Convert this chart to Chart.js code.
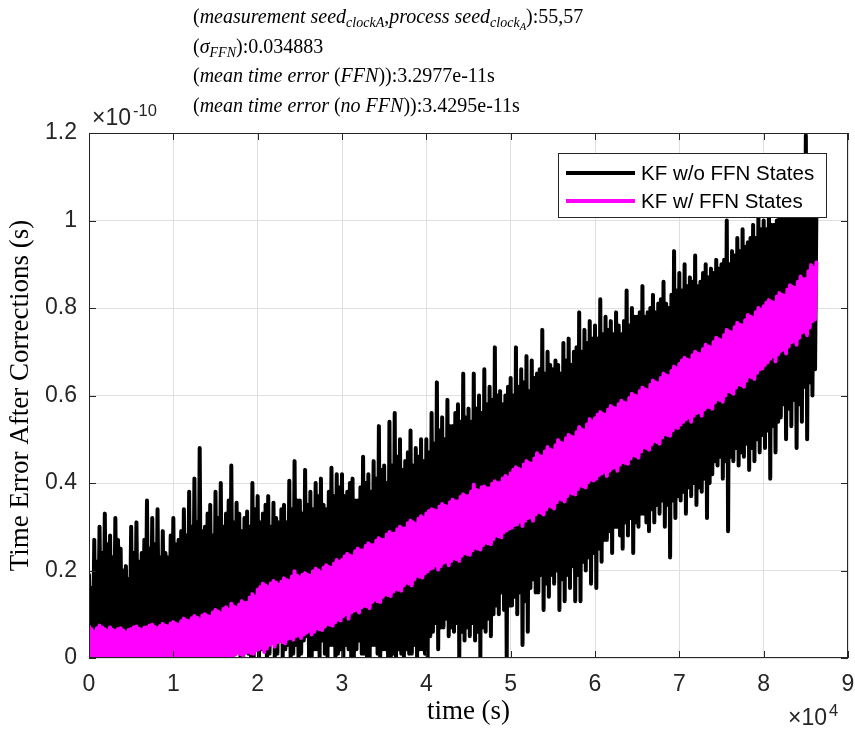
<!DOCTYPE html>
<html>
<head>
<meta charset="utf-8">
<script src="https://cdn.jsdelivr.net/npm/chart.js@4/dist/chart.umd.min.js"></script>
<style>
  body { margin: 0; background: #fff; }
  #wrap { position: relative; width: 855px; height: 736px; }
  #plot { position: absolute; left: 0; top: 0; }
  #title {
    position: absolute; left: 193px; top: 2px;
    font-family: "Liberation Serif", serif; font-size: 20px; line-height: 29.5px;
    color: #000; white-space: nowrap;
  }
  #title sub { font-size: 70%; vertical-align: -0.3em; line-height: 0; }
  #title sub sub { font-size: 75%; vertical-align: -0.25em; }
  .expo {
    position: absolute; font-family: "Liberation Sans", sans-serif;
    font-size: 23px; color: #262626; white-space: nowrap;
  }
  .expo sup { font-size: 72%; vertical-align: 0.55em; line-height: 0; margin-left: 2px; }
</style>
</head>
<body>
<div id="wrap">
  <canvas id="plot" width="855" height="736"></canvas>
  <div id="title">
    <div>(<i>measurement seed</i><sub><i>clockA</i></sub>,<i>process seed</i><sub><i>clock<sub>A</sub></i></sub>):55,57</div>
    <div>(<i>σ</i><sub><i>FFN</i></sub>):0.034883</div>
    <div>(<i>mean time error</i> (<i>FFN</i>)):3.2977e-11s</div>
    <div>(<i>mean time error</i> (<i>no FFN</i>)):3.4295e-11s</div>
  </div>
  <div class="expo" style="left:92px; top:104px;">×10<sup>-10</sup></div>
  <div class="expo" style="left:788px; top:704px;">×10<sup>4</sup></div>
</div>
<script>
// seconds between stored samples
const SAMPLE_DT = 156.25;

const seriesNames = ['KF w/o FFN States', 'KF w/ FFN States'];
const xTickLabels = ['0', '1', '2', '3', '4', '5', '6', '7', '8', '9'];
const yTickLabels = ['0', '0.2', '0.4', '0.6', '0.8', '1', '1.2'];

// time error after corrections, in units of 1e-10 s (one row per 10 000 s)
const errorNoFfn = [
  0.19,0.02, 0.16,0.01, 0.27,0.00, 0.22,0.04, 0.30,0.03, 0.24,0.00, 0.33,0.01, 0.26,0.02,
  0.28,0.00, 0.23,0.03, 0.32,0.04, 0.27,0.01, 0.25,0.01, 0.20,0.00, 0.21,0.02, 0.18,0.04,
  0.30,0.00, 0.24,0.01, 0.31,0.03, 0.22,0.00, 0.24,0.01, 0.27,0.02, 0.36,0.00, 0.25,0.03,
  0.32,0.02, 0.26,0.00, 0.34,0.04, 0.23,0.01, 0.29,0.01, 0.24,0.03, 0.23,0.00, 0.28,0.02,

  0.32,0.01, 0.26,0.03, 0.27,0.03, 0.29,0.00, 0.34,0.00, 0.28,0.02, 0.38,0.02, 0.30,0.04,
  0.41,0.04, 0.31,0.00, 0.48,0.01, 0.29,0.02, 0.30,0.00, 0.33,0.01, 0.35,0.03, 0.28,0.00,
  0.38,0.02, 0.32,0.03, 0.40,0.00, 0.30,0.01, 0.33,0.01, 0.36,0.00, 0.44,0.00, 0.31,0.02,
  0.355,0.02, 0.33,0.00, 0.29,0.00, 0.32,0.03, 0.335,0.01, 0.30,0.00, 0.40,0.00, 0.34,0.02,

  0.37,0.00, 0.31,0.02, 0.33,0.03, 0.35,0.00, 0.37,0.01, 0.30,0.04, 0.355,0.00, 0.32,0.01,
  0.31,0.04, 0.34,0.00, 0.35,0.02, 0.31,0.03, 0.405,0.00, 0.34,0.01, 0.45,0.03, 0.36,0.00,
  0.36,0.01, 0.33,0.04, 0.43,0.05, 0.35,0.00, 0.38,0.00, 0.34,0.02, 0.40,0.02, 0.37,0.00,
  0.41,0.04, 0.35,0.01, 0.34,0.00, 0.38,0.03, 0.435,0.03, 0.37,0.00, 0.42,0.01, 0.39,0.02,

  0.42,0.00, 0.37,0.03, 0.38,0.02, 0.40,0.00, 0.41,0.00, 0.36,0.02, 0.36,0.04, 0.39,0.01,
  0.46,0.01, 0.40,0.00, 0.42,0.00, 0.38,0.03, 0.45,0.03, 0.41,0.01, 0.53,0.00, 0.43,0.02,
  0.44,0.02, 0.40,0.00, 0.54,0.00, 0.44,0.01, 0.56,0.00, 0.46,0.02, 0.50,0.01, 0.43,0.00,
  0.45,0.02, 0.47,0.01, 0.52,0.01, 0.44,0.03, 0.48,0.00, 0.46,0.02, 0.50,0.02, 0.45,0.01,

  0.50,0.00, 0.47,0.05, 0.56,0.06, 0.49,0.08, 0.63,0.02, 0.52,0.07, 0.55,0.07, 0.50,0.09,
  0.59,0.05, 0.53,0.07, 0.53,0.06, 0.56,0.08, 0.58,0.00, 0.54,0.06, 0.65,0.04, 0.55,0.07,
  0.57,0.05, 0.54,0.08, 0.65,0.04, 0.57,0.06, 0.60,0.00, 0.56,0.07, 0.66,0.06, 0.58,0.09,
  0.62,0.05, 0.59,0.10, 0.71,0.12, 0.60,0.10, 0.61,0.15, 0.58,0.11, 0.60,0.00, 0.62,0.12,

  0.64,0.12, 0.60,0.14, 0.71,0.10, 0.62,0.15, 0.66,0.03, 0.63,0.13, 0.69,0.06, 0.61,0.16,
  0.68,0.18, 0.64,0.15, 0.65,0.15, 0.66,0.19, 0.75,0.11, 0.65,0.17, 0.70,0.14, 0.67,0.19,
  0.66,0.17, 0.68,0.20, 0.67,0.11, 0.65,0.18, 0.72,0.13, 0.68,0.19, 0.73,0.16, 0.67,0.21,
  0.70,0.13, 0.71,0.19, 0.79,0.13, 0.70,0.22, 0.75,0.20, 0.72,0.23, 0.77,0.17, 0.73,0.24,

  0.76,0.16, 0.73,0.25, 0.82,0.22, 0.74,0.27, 0.78,0.27, 0.75,0.29, 0.77,0.24, 0.74,0.30,
  0.79,0.30, 0.76,0.28, 0.74,0.25, 0.77,0.31, 0.84,0.28, 0.76,0.32, 0.80,0.24, 0.78,0.31,
  0.78,0.30, 0.79,0.33, 0.85,0.33, 0.78,0.31, 0.79,0.29, 0.80,0.34, 0.83,0.31, 0.79,0.35,
  0.81,0.33, 0.82,0.36, 0.86,0.30, 0.81,0.35, 0.80,0.23, 0.83,0.36, 0.93,0.32, 0.84,0.37,

  0.88,0.36, 0.84,0.38, 0.90,0.33, 0.85,0.39, 0.87,0.37, 0.86,0.40, 0.92,0.35, 0.85,0.39,
  0.86,0.38, 0.88,0.41, 0.90,0.32, 0.87,0.40, 0.89,0.42, 0.88,0.45, 0.91,0.44, 0.89,0.46,
  0.90,0.41, 0.91,0.45, 1.00,0.29, 0.90,0.46, 0.93,0.45, 0.92,0.48, 0.96,0.44, 0.93,0.47,
  0.98,0.46, 0.94,0.49, 0.95,0.43, 0.96,0.48, 0.99,0.45, 0.96,0.50, 1.01,0.47, 0.98,0.51,

  1.00,0.48, 0.98,0.52, 1.03,0.41, 0.99,0.53, 0.99,0.47, 1.00,0.54, 1.04,0.55, 1.01,0.58,
  1.02,0.50, 1.03,0.57, 1.06,0.53, 1.02,0.59, 1.01,0.48, 1.04,0.58, 1.05,0.54, 1.03,0.62,
  1.195,0.50, 1.04,0.63, 1.04,0.60, 1.02,0.66, 1.02
];

const errorFfn = [
  0.072,0.000, 0.066,0.002, 0.060,0.004, 0.068,0.000, 0.074,0.001, 0.070,0.003, 0.066,0.000, 0.062,0.001,
  0.070,0.003, 0.064,0.000, 0.062,0.000, 0.066,0.002, 0.068,0.002, 0.063,0.000, 0.058,0.001, 0.064,0.002,
  0.066,0.000, 0.070,0.001, 0.072,0.003, 0.067,0.000, 0.064,0.000, 0.069,0.002, 0.070,0.002, 0.074,0.000,
  0.076,0.001, 0.071,0.003, 0.068,0.000, 0.073,0.001, 0.078,0.002, 0.074,0.000, 0.072,0.000, 0.079,0.002,

  0.082,0.000, 0.078,0.002, 0.076,0.002, 0.084,0.000, 0.090,0.000, 0.086,0.003, 0.084,0.001, 0.091,0.000,
  0.096,0.000, 0.092,0.002, 0.088,0.003, 0.097,0.000, 0.100,0.000, 0.096,0.001, 0.094,0.001, 0.104,0.000,
  0.110,0.000, 0.106,0.003, 0.102,0.002, 0.112,0.000, 0.116,0.000, 0.110,0.002, 0.124,0.004, 0.118,0.008,
  0.114,0.012, 0.122,0.009, 0.130,0.006, 0.126,0.012, 0.126,0.014, 0.138,0.011, 0.146,0.010, 0.140,0.018,

  0.156,0.020, 0.162,0.024, 0.170,0.014, 0.166,0.022, 0.162,0.030, 0.170,0.034, 0.176,0.026, 0.172,0.036,
  0.168,0.040, 0.174,0.036, 0.182,0.034, 0.178,0.044, 0.176,0.046, 0.186,0.042, 0.198,0.050, 0.188,0.052,
  0.184,0.046, 0.190,0.054, 0.194,0.058, 0.190,0.062, 0.188,0.054, 0.198,0.060, 0.204,0.068, 0.200,0.066,
  0.196,0.064, 0.206,0.072, 0.212,0.078, 0.208,0.076, 0.206,0.074, 0.216,0.082, 0.224,0.088, 0.220,0.086,

  0.224,0.096, 0.232,0.100, 0.238,0.090, 0.234,0.104, 0.232,0.108, 0.244,0.110, 0.250,0.104, 0.246,0.116,
  0.246,0.120, 0.256,0.118, 0.262,0.114, 0.258,0.128, 0.258,0.134, 0.268,0.130, 0.274,0.128, 0.270,0.140,
  0.270,0.146, 0.282,0.144, 0.288,0.142, 0.284,0.152, 0.284,0.158, 0.294,0.156, 0.300,0.154, 0.296,0.166,
  0.296,0.172, 0.308,0.170, 0.314,0.166, 0.310,0.180, 0.306,0.188, 0.318,0.186, 0.324,0.184, 0.320,0.194,

  0.330,0.198, 0.336,0.204, 0.340,0.206, 0.338,0.212, 0.336,0.202, 0.346,0.210, 0.352,0.218, 0.348,0.220,
  0.346,0.212, 0.356,0.222, 0.362,0.228, 0.358,0.226, 0.358,0.222, 0.368,0.234, 0.374,0.240, 0.370,0.238,
  0.370,0.236, 0.380,0.246, 0.396,0.252, 0.384,0.250, 0.382,0.248, 0.390,0.258, 0.392,0.264, 0.388,0.262,
  0.388,0.260, 0.398,0.272, 0.404,0.280, 0.400,0.278, 0.400,0.276, 0.410,0.288, 0.416,0.292, 0.412,0.296,

  0.422,0.298, 0.430,0.304, 0.436,0.306, 0.432,0.312, 0.430,0.302, 0.442,0.314, 0.450,0.320, 0.446,0.322,
  0.444,0.314, 0.456,0.328, 0.468,0.334, 0.462,0.332, 0.460,0.328, 0.472,0.340, 0.482,0.348, 0.476,0.346,
  0.474,0.342, 0.486,0.356, 0.498,0.364, 0.492,0.362, 0.490,0.358, 0.502,0.370, 0.510,0.378, 0.506,0.376,
  0.504,0.374, 0.516,0.386, 0.528,0.394, 0.522,0.392, 0.520,0.390, 0.534,0.402, 0.546,0.408, 0.540,0.406,

  0.548,0.410, 0.556,0.418, 0.562,0.422, 0.558,0.426, 0.556,0.416, 0.568,0.428, 0.576,0.434, 0.572,0.436,
  0.570,0.428, 0.580,0.442, 0.588,0.448, 0.584,0.446, 0.582,0.444, 0.594,0.456, 0.604,0.464, 0.600,0.462,
  0.598,0.458, 0.610,0.472, 0.618,0.482, 0.614,0.480, 0.612,0.476, 0.624,0.488, 0.634,0.496, 0.630,0.494,
  0.628,0.490, 0.640,0.504, 0.650,0.512, 0.646,0.510, 0.644,0.508, 0.656,0.520, 0.666,0.528, 0.662,0.526,

  0.672,0.534, 0.680,0.540, 0.686,0.546, 0.682,0.550, 0.680,0.540, 0.692,0.554, 0.700,0.560, 0.696,0.562,
  0.694,0.554, 0.706,0.568, 0.716,0.574, 0.712,0.574, 0.710,0.570, 0.722,0.584, 0.732,0.592, 0.728,0.590,
  0.726,0.586, 0.738,0.600, 0.750,0.610, 0.746,0.608, 0.744,0.604, 0.756,0.618, 0.766,0.626, 0.762,0.624,
  0.760,0.620, 0.772,0.634, 0.784,0.644, 0.780,0.642, 0.778,0.638, 0.790,0.652, 0.800,0.660, 0.796,0.662,

  0.804,0.670, 0.812,0.676, 0.818,0.684, 0.814,0.690, 0.812,0.678, 0.826,0.694, 0.834,0.702, 0.830,0.706,
  0.828,0.696, 0.842,0.712, 0.852,0.722, 0.848,0.724, 0.846,0.716, 0.860,0.732, 0.872,0.744, 0.866,0.746,
  0.866,0.738, 0.884,0.756, 0.898,0.770, 0.892,0.774, 0.904
];

function toPoints(values) {
  return values.map((v, i) => ({ x: i * SAMPLE_DT, y: v }));
}

const AXIS_COLOR = '#262626';

// MATLAB-like box with inward tick marks on all four sides
const axesBox = {
  id: 'axesBox',
  afterDatasetsDraw(chart) {
    const { ctx, chartArea: a, scales } = chart;
    const len = 7;
    ctx.save();
    ctx.strokeStyle = AXIS_COLOR;
    ctx.lineWidth = 1;
    ctx.beginPath();
    scales.x.ticks.forEach(t => {
      const px = Math.round(scales.x.getPixelForValue(t.value)) + 0.5;
      ctx.moveTo(px, a.bottom); ctx.lineTo(px, a.bottom - len);
      ctx.moveTo(px, a.top); ctx.lineTo(px, a.top + len);
    });
    scales.y.ticks.forEach(t => {
      const py = Math.round(scales.y.getPixelForValue(t.value)) + 0.5;
      ctx.moveTo(a.left, py); ctx.lineTo(a.left + len, py);
      ctx.moveTo(a.right, py); ctx.lineTo(a.right - len, py);
    });
    ctx.stroke();
    ctx.strokeRect(a.left + 0.5, a.top + 0.5, a.right - a.left - 1, a.bottom - a.top - 1);
    ctx.restore();
  }
};

const legendBox = {
  id: 'legendBox',
  afterDraw(chart) {
    const ctx = chart.ctx;
    const x = 558, y = 153, w = 268, h = 64;
    ctx.save();
    ctx.fillStyle = '#fff';
    ctx.fillRect(x, y, w, h);
    ctx.strokeStyle = AXIS_COLOR;
    ctx.lineWidth = 1;
    ctx.strokeRect(x + 0.5, y + 0.5, w, h);
    ctx.font = '20.5px "Liberation Sans", sans-serif';
    ctx.textBaseline = 'middle';
    chart.data.datasets.forEach((ds, i) => {
      const ly = y + 20 + i * 28;
      ctx.strokeStyle = ds.borderColor;
      ctx.lineWidth = 4;
      ctx.beginPath();
      ctx.moveTo(566, ly);
      ctx.lineTo(635, ly);
      ctx.stroke();
      ctx.fillStyle = '#000';
      ctx.fillText(ds.label, 641, ly + 1);
    });
    ctx.restore();
  }
};

Chart.defaults.font.family = '"Liberation Sans", Arial, sans-serif';
Chart.defaults.color = AXIS_COLOR;

new Chart(document.getElementById('plot'), {
  type: 'line',
  data: {
    datasets: [
      {
        label: seriesNames[0],
        data: toPoints(errorNoFfn),
        borderColor: '#000000',
        borderWidth: 4,
        order: 1
      },
      {
        label: seriesNames[1],
        data: toPoints(errorFfn),
        borderColor: '#ff00ff',
        borderWidth: 4,
        order: 0
      }
    ]
  },
  options: {
    responsive: false,
    animation: false,
    layout: { padding: { top: 133, right: 7, left: 0, bottom: 0 } },
    elements: {
      point: { radius: 0 },
      line: { tension: 0, borderJoinStyle: 'round', borderCapStyle: 'round' }
    },
    plugins: { legend: { display: false }, tooltip: { enabled: false } },
    scales: {
      x: {
        type: 'linear',
        min: 0,
        max: 90000,
        afterFit: s => {
          s.height = 78;
          s.paddingLeft = 0;
          s.paddingRight = 7;
        },
        ticks: {
          stepSize: 10000,
          padding: 13,
          font: { size: 23 },
          callback: (v, i) => xTickLabels[i]
        },
        grid: { color: '#dfdfdf', drawTicks: false },
        border: { display: false },
        title: {
          display: true,
          text: 'time (s)',
          font: { family: '"Liberation Serif", serif', size: 27 },
          color: '#000',
          padding: { top: 0, bottom: 8 }
        }
      },
      y: {
        min: 0,
        max: 1.2,
        afterFit: s => { s.width = 89; },
        ticks: {
          stepSize: 0.2,
          padding: 12,
          font: { size: 23 },
          callback: (v, i) => yTickLabels[i]
        },
        grid: { color: '#dfdfdf', drawTicks: false },
        border: { display: false },
        title: {
          display: true,
          text: 'Time Error After Corrections (s)',
          font: { family: '"Liberation Serif", serif', size: 27 },
          color: '#000',
          padding: { top: 5, bottom: 0 }
        }
      }
    }
  },
  plugins: [axesBox, legendBox]
});
</script>
</body>
</html>
